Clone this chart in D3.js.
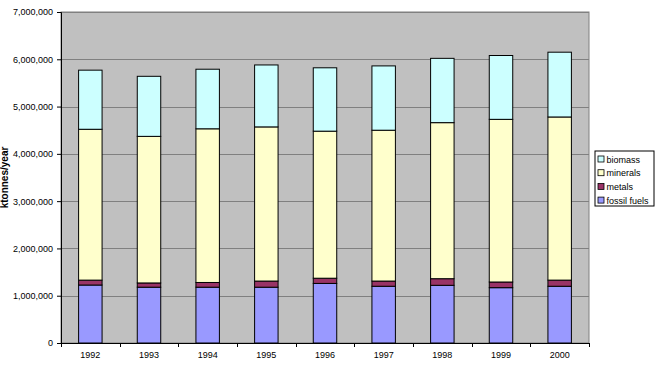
<!DOCTYPE html>
<html>
<head>
<meta charset="utf-8">
<script src="https://cdn.jsdelivr.net/npm/d3@7"></script>
<style>
  body { margin: 0; background: #fff; }
  text { font-family: "Liberation Sans", Arial, sans-serif; }
</style>
</head>
<body>
<div id="chart"></div>
<script>
var years = ["1992","1993","1994","1995","1996","1997","1998","1999","2000"];
var fossilFuels = [1226000,1180000,1180000,1180000,1260000,1200000,1220000,1170000,1200000];
var metals      = [104000,90000,100000,130000,110000,110000,140000,120000,130000];
var minerals    = [3190000,3100000,3250000,3260000,3110000,3190000,3300000,3440000,3450000];
var biomass     = [1250000,1270000,1260000,1310000,1340000,1360000,1360000,1350000,1370000];
var seriesNames = ["fossil fuels","metals","minerals","biomass"];
var seriesColors = ["#9999ff","#993366","#ffffcc","#ccffff"];
var yTicks = [0,1000000,2000000,3000000,4000000,5000000,6000000,7000000];

var W = 658, H = 368;
var margin = {top: 12, right: 69, bottom: 25, left: 61};
var width = W - margin.left - margin.right;
var height = H - margin.top - margin.bottom;

var svg = d3.select("#chart").append("svg")
    .attr("width", W).attr("height", H);
var g = svg.append("g")
    .attr("transform", "translate(" + margin.left + "," + margin.top + ")");

var rows = years.map(function(y, i) {
  return {year: y, "fossil fuels": fossilFuels[i], metals: metals[i], minerals: minerals[i], biomass: biomass[i]};
});
var stacked = d3.stack().keys(seriesNames)(rows);

var x = d3.scaleBand().domain(years).range([0, width]).paddingInner(0.6).paddingOuter(0.3);
var y = d3.scaleLinear().domain([0, 7000000]).range([height, 0]);

// plot area
g.append("rect")
  .attr("width", width).attr("height", height)
  .attr("fill", "#c0c0c0").attr("stroke", "#808080").attr("stroke-width", 1);

// grid
g.selectAll(".grid").data(yTicks.slice(1)).enter().append("line")
  .attr("x1", 0).attr("x2", width)
  .attr("y1", function(d) { return Math.round(y(d)) + 0.5; })
  .attr("y2", function(d) { return Math.round(y(d)) + 0.5; })
  .attr("stroke", "#808080").attr("stroke-width", 1);

// bars
g.selectAll(".series").data(stacked).enter().append("g")
  .attr("fill", function(d, i) { return seriesColors[i]; })
  .selectAll("rect").data(function(d) { return d; }).enter().append("rect")
    .attr("x", function(d) { return x(d.data.year); })
    .attr("width", x.bandwidth())
    .attr("y", function(d) { return y(d[1]); })
    .attr("height", function(d) { return y(d[0]) - y(d[1]); })
    .attr("stroke", "#000").attr("stroke-width", 1);

// y axis
var yAxis = g.append("g")
  .call(d3.axisLeft(y).tickValues(yTicks).tickSize(4).tickFormat(d3.format(",")));
yAxis.select(".domain").attr("stroke", "#000");
yAxis.selectAll("text").attr("font-size", "9px").attr("fill", "#000").attr("dx", "-1");

// x axis with ticks at category boundaries
var xAxis = g.append("g").attr("transform", "translate(0," + height + ")")
  .call(d3.axisBottom(x).tickSize(0).tickPadding(9));
xAxis.select(".domain").attr("stroke", "#000");
xAxis.selectAll("text").attr("font-size", "9px").attr("fill", "#000");
var step = width / years.length;
xAxis.selectAll(".bnd").data(d3.range(years.length + 1)).enter().append("line")
  .attr("x1", function(i) { return Math.round(i * step) + 0.5; })
  .attr("x2", function(i) { return Math.round(i * step) + 0.5; })
  .attr("y1", 0).attr("y2", 4).attr("stroke", "#000");

// axis title
svg.append("text")
  .attr("transform", "translate(8," + (margin.top + height / 2) + ") rotate(-90)")
  .attr("text-anchor", "middle")
  .attr("font-size", "10px").attr("font-weight", "bold")
  .text("ktonnes/year");

// legend
var legend = svg.append("g").attr("transform", "translate(595,151)");
legend.append("rect").attr("width", 59).attr("height", 55)
  .attr("fill", "#fff").attr("stroke", "#000").attr("stroke-width", 1);
var order = [3, 2, 1, 0];
order.forEach(function(si, k) {
  var row = legend.append("g").attr("transform", "translate(0," + (3 + k * 13.7) + ")");
  row.append("rect").attr("x", 3).attr("y", 2).attr("width", 6).attr("height", 6)
    .attr("fill", seriesColors[si]).attr("stroke", "#000").attr("stroke-width", 0.8);
  row.append("text").attr("x", 11.5).attr("y", 8.5)
    .attr("font-size", "9px").attr("fill", "#000").text(seriesNames[si]);
});
</script>
</body>
</html>
